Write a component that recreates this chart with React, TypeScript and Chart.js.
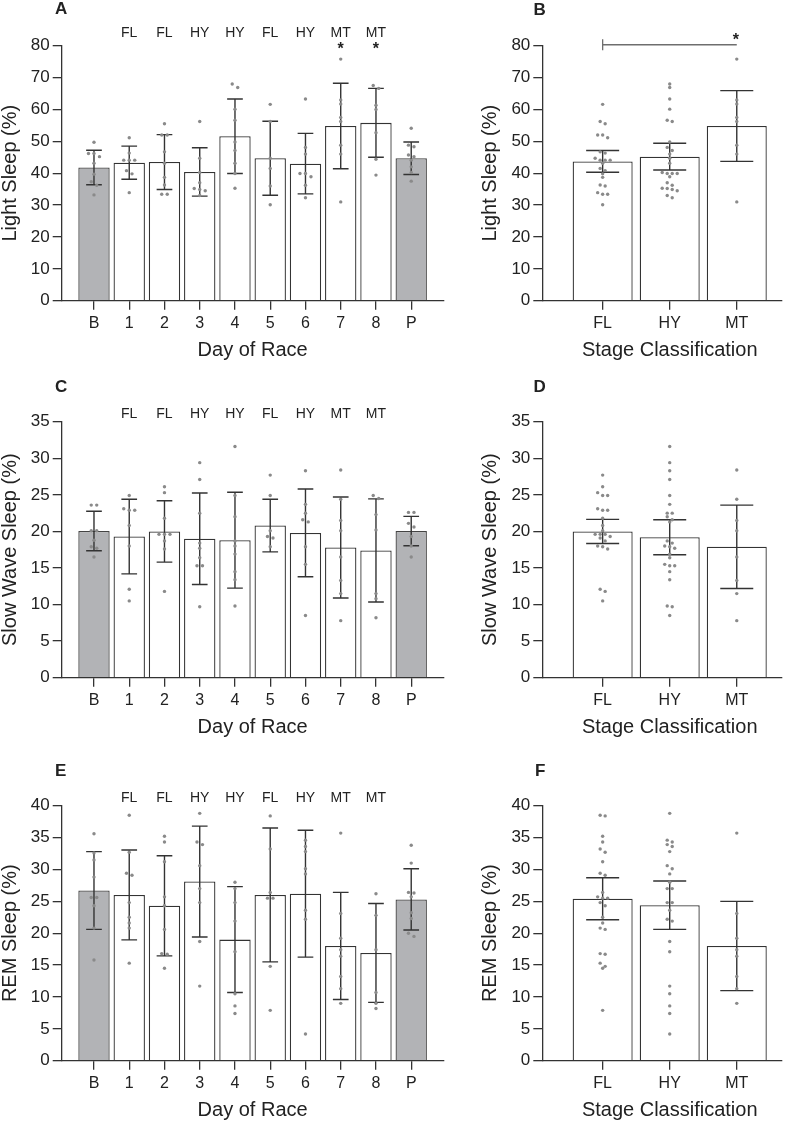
import React, { useEffect, useRef } from 'react';
import { Chart, registerables } from 'chart.js';

Chart.register(...registerables);

const FONT = "'Liberation Sans', Arial, Helvetica, sans-serif";
const INK = '#222222';
const AXIS = '#333333';
const WHITE = '#ffffff';
const GRAY = '#b2b3b6';
const DOT = '#8a8a8a';

// ---------- categories ----------
const dayLabels = ['B', '1', '2', '3', '4', '5', '6', '7', '8', 'P'];
const dayStages = ['', 'FL', 'FL', 'HY', 'HY', 'FL', 'HY', 'MT', 'MT', ''];
const stageLabels = ['FL', 'HY', 'MT'];

// ---------- A: Light sleep by day ----------
const lightDayMean = [41.8, 43.3, 43.5, 40.4, 51.6, 44.7, 43.0, 54.8, 55.8, 44.7];
const lightDaySD = [5.4, 5.2, 8.6, 7.6, 11.7, 11.6, 9.5, 13.4, 10.8, 5.1];
const lightDaySig = ['', '', '', '', '', '', '', '*', '*', ''];
const lightDayDots = [
  [49.7, 46.2, 46.2, 45.2, 43.1, 39.7, 37.3, 36.2, 33.2],
  [51.1, 46.3, 44.1, 44.1, 44.1, 40.8, 39.8, 33.9],
  [55.5, 52.0, 52.0, 46.7, 43.1, 38.7, 36.3, 33.4, 33.4],
  [56.2, 44.7, 40.2, 37.0, 35.2, 34.9, 34.5, 33.0],
  [68.0, 66.9, 60.1, 56.6, 49.8, 47.1, 43.1, 39.9, 35.3],
  [61.6, 56.2, 44.7, 41.5, 36.0, 30.1],
  [63.3, 48.1, 46.0, 39.9, 39.9, 38.9, 36.2, 32.3],
  [75.8, 63.0, 61.7, 57.5, 56.2, 48.8, 46.0, 31.0],
  [67.5, 66.6, 61.3, 60.0, 52.7, 44.4, 39.4],
  [54.1, 48.8, 48.3, 45.7, 45.2, 44.1, 42.0, 40.2, 37.5],
];

// ---------- B: Light sleep by stage ----------
const lightStageMean = [43.7, 45.2, 54.8];
const lightStageErr = [3.4, 4.2, 11.1];
const lightStageDots = [
  [61.6, 56.2, 55.5, 52.0, 52.0, 51.1, 46.7, 46.3, 44.7, 44.1, 44.1, 44.1, 43.1, 41.5, 40.8, 39.8, 38.7, 36.3, 36.0, 33.9, 33.4, 33.4, 30.1],
  [68.0, 66.9, 63.3, 60.1, 56.6, 56.2, 49.8, 48.1, 47.1, 46.0, 44.7, 43.1, 40.2, 39.9, 39.9, 39.9, 38.9, 37.0, 36.2, 35.3, 35.2, 34.9, 34.5, 33.0, 32.3],
  [75.8, 63.0, 61.7, 57.5, 56.2, 48.8, 46.0, 31.0],
];
const lightStageBracket = { from: 0, to: 2, level: 80.3, mark: '*' };

// ---------- C: Slow wave sleep by day ----------
const swsDayMean = [20.05, 19.3, 20.0, 19.0, 18.8, 20.8, 19.8, 17.8, 17.4, 20.05];
const swsDaySD = [2.7, 5.1, 4.2, 6.25, 6.55, 3.6, 6.0, 6.9, 7.05, 2.0];
const swsDayDots = [
  [23.6, 23.6, 20.1, 20.1, 18.8, 17.9, 17.7, 16.5],
  [24.9, 23.1, 22.9, 22.9, 20.8, 18.0, 12.1, 10.5],
  [26.1, 25.3, 21.8, 19.6, 19.6, 19.6, 18.7, 17.6, 11.8],
  [29.4, 27.1, 22.5, 18.4, 17.7, 16.4, 15.3, 15.3, 9.7],
  [31.6, 24.9, 22.0, 18.7, 18.0, 16.9, 14.5, 13.4, 9.8],
  [27.7, 24.9, 20.1, 19.3, 19.1, 17.9],
  [28.3, 23.7, 22.5, 21.6, 21.3, 17.9, 15.5, 8.5],
  [28.4, 24.4, 21.5, 20.1, 16.5, 13.3, 11.5, 7.8],
  [24.9, 24.5, 22.3, 20.2, 11.5, 10.8, 8.2],
  [22.6, 22.6, 21.1, 20.6, 19.3, 18.0, 16.5],
];

// ---------- D: Slow wave sleep by stage ----------
const swsStageMean = [20.0, 19.2, 17.9];
const swsStageErr = [1.65, 2.4, 5.7];
const swsStageDots = [
  [27.7, 26.1, 25.3, 24.9, 24.9, 23.1, 22.9, 22.9, 21.8, 20.8, 20.1, 19.6, 19.6, 19.6, 19.3, 19.1, 18.7, 18.0, 17.9, 17.6, 12.1, 11.8, 10.5],
  [31.6, 29.4, 28.3, 27.1, 24.9, 23.7, 22.5, 22.5, 22.0, 21.6, 21.3, 18.7, 18.4, 18.0, 17.9, 17.7, 16.9, 16.4, 15.5, 15.3, 15.3, 14.5, 13.4, 9.8, 9.7, 8.5],
  [28.4, 24.4, 21.5, 20.1, 16.5, 13.3, 11.5, 7.8],
];

// ---------- E: REM sleep by day ----------
const remDayMean = [26.7, 26.0, 24.3, 28.1, 19.0, 26.0, 26.2, 18.0, 16.9, 25.3];
const remDaySD = [6.1, 7.05, 7.85, 8.7, 8.3, 10.5, 9.95, 8.4, 7.75, 4.8];
const remDayDots = [
  [35.6, 32.6, 31.5, 28.8, 25.6, 25.6, 24.3, 20.8, 15.8],
  [38.5, 32.7, 29.4, 29.1, 24.8, 22.5, 21.6, 20.8, 15.3],
  [35.2, 34.3, 31.2, 25.7, 24.3, 20.6, 16.8, 16.7, 14.5],
  [38.8, 34.3, 33.9, 30.6, 27.0, 24.8, 18.7, 11.7],
  [28.0, 27.0, 24.8, 21.9, 17.1, 10.5, 8.6, 7.4],
  [38.4, 33.2, 26.4, 25.5, 25.5, 14.8, 7.9],
  [34.6, 33.6, 32.8, 30.1, 29.3, 23.6, 22.2, 4.2],
  [35.7, 23.1, 19.2, 17.4, 16.4, 13.2, 11.3, 9.0],
  [26.2, 22.8, 17.4, 10.7, 9.0, 8.2],
  [33.8, 31.0, 26.4, 26.3, 25.7, 23.2, 22.3, 20.0, 19.5],
];

// ---------- F: REM sleep by stage ----------
const remStageMean = [25.4, 24.4, 18.0];
const remStageErr = [3.3, 3.8, 7.0];
const remStageDots = [
  [38.5, 38.4, 35.2, 34.3, 33.2, 32.7, 31.2, 29.4, 29.1, 26.4, 25.7, 25.5, 25.5, 24.8, 24.3, 22.5, 21.6, 20.8, 20.6, 16.8, 16.7, 15.3, 14.8, 14.5, 7.9],
  [38.8, 34.6, 34.3, 33.9, 33.6, 32.8, 30.6, 30.1, 29.3, 28.0, 27.0, 27.0, 24.8, 24.8, 23.6, 22.2, 21.9, 18.7, 17.1, 11.7, 10.5, 8.6, 7.4, 4.2],
  [35.7, 23.1, 19.2, 17.4, 16.4, 13.2, 11.3, 9.0],
];

type Panel = {
  key: string;
  left: number; top: number; width: number; height: number;
  labels: string[];
  means: number[];
  errors: number[];
  dots: number[][];
  fills: string[];
  yMax: number; yStep: number;
  yTitle: string; xTitle: string;
  xMin: number; xMax: number;
  padTop: number; padRight: number; yAxisW: number; xAxisH: number;
  letter: string; letterX: number; letterY: number;
  stages?: string[]; stageDy?: number;
  sig?: string[]; sigDy?: number;
  bracket?: { from: number; to: number; level: number; mark: string };
  capRatio: number; barPct: number; dotGap: number; rowH: number;
};

const dayFills = dayLabels.map((l) => (l === 'B' || l === 'P' ? GRAY : WHITE));
const stageFills = stageLabels.map(() => WHITE);

const leftCommon = {
  left: 0, width: 460, padRight: 16, yAxisW: 61.7, xMin: -0.916, xMax: 9.93,
  labels: dayLabels, fills: dayFills, xTitle: 'Day of Race', stages: dayStages,
  capRatio: 0.25, barPct: 0.89, dotGap: 5.5, rowH: 4, letterX: 55,
};
const rightCommon = {
  left: 480, width: 317, padRight: 15.3, yAxisW: 62.3, xMin: -0.9, xMax: 2.67,
  labels: stageLabels, fills: stageFills, xTitle: 'Stage Classification',
  capRatio: 0.275, barPct: 0.895, dotGap: 5, rowH: 3.5, letterX: 53.5,
};

const panels: Panel[] = [
  { ...leftCommon, key: 'A', top: 0, height: 370, padTop: 45.7, xAxisH: 69.3,
    means: lightDayMean, errors: lightDaySD, dots: lightDayDots, yMax: 80, yStep: 10,
    yTitle: 'Light Sleep (%)', letter: 'A', letterY: 14, stageDy: 9, sig: lightDaySig, sigDy: 8.6 },
  { ...rightCommon, key: 'B', top: 0, height: 370, padTop: 45.7, xAxisH: 69.3,
    means: lightStageMean, errors: lightStageErr, dots: lightStageDots, yMax: 80, yStep: 10,
    yTitle: 'Light Sleep (%)', letter: 'B', letterY: 15, bracket: lightStageBracket },
  { ...leftCommon, key: 'C', top: 370, height: 380, padTop: 51.7, xAxisH: 72.3,
    means: swsDayMean, errors: swsDaySD, dots: swsDayDots, yMax: 35, yStep: 5,
    yTitle: 'Slow Wave Sleep (%)', letter: 'C', letterY: 22, stageDy: 4.2 },
  { ...rightCommon, key: 'D', top: 370, height: 380, padTop: 51.7, xAxisH: 72.3,
    means: swsStageMean, errors: swsStageErr, dots: swsStageDots, yMax: 35, yStep: 5,
    yTitle: 'Slow Wave Sleep (%)', letter: 'D', letterY: 22 },
  { ...leftCommon, key: 'E', top: 750, height: 373, padTop: 55.7, xAxisH: 62.3,
    means: remDayMean, errors: remDaySD, dots: remDayDots, yMax: 40, yStep: 5,
    yTitle: 'REM Sleep (%)', letter: 'E', letterY: 26, stageDy: 4 },
  { ...rightCommon, key: 'F', top: 750, height: 373, padTop: 55.7, xAxisH: 62.3,
    means: remStageMean, errors: remStageErr, dots: remStageDots, yMax: 40, yStep: 5,
    yTitle: 'REM Sleep (%)', letter: 'F', letterY: 26, letterX: 55 },
];

function makePlugins(p: Panel) {
  const beeswarm = {
    id: 'beeswarm' + p.key,
    afterDatasetsUpdate(chart: any) {
      const xs = chart.scales.x;
      chart.data.datasets.forEach((ds: any, di: number) => {
        if (ds.type !== 'scatter') return;
        const meta = chart.getDatasetMeta(di);
        const groups = new Map<number, any[]>();
        meta.data.forEach((el: any, i: number) => {
          const gx = ds.data[i].x;
          if (!groups.has(gx)) groups.set(gx, []);
          groups.get(gx)!.push(el);
        });
        groups.forEach((els, gx) => {
          const cx = xs.getPixelForValue(gx);
          const sorted = [...els].sort((a, b) => a.y - b.y);
          let row: any[] = [];
          const flush = () => {
            row.forEach((e, j) => { e.x = cx + (j - (row.length - 1) / 2) * p.dotGap; });
            row = [];
          };
          sorted.forEach((e) => {
            if (row.length && e.y - row[0].y > p.rowH) flush();
            row.push(e);
          });
          flush();
        });
      });
    },
  };
  const errorBars = {
    id: 'errorBars' + p.key,
    afterDatasetDraw(chart: any, args: any) {
      const ds = chart.data.datasets[args.index];
      if (!ds.errors) return;
      const ys = chart.scales.y;
      const ctx = chart.ctx;
      ctx.save();
      ctx.strokeStyle = AXIS;
      ctx.lineWidth = 1.4;
      args.meta.data.forEach((bar: any, i: number) => {
        const m = ds.data[i].y;
        const e = ds.errors[i];
        const x = bar.x;
        const hi = ys.getPixelForValue(m + e);
        const lo = ys.getPixelForValue(m - e);
        const hw = bar.width * p.capRatio;
        ctx.beginPath();
        ctx.moveTo(x, hi); ctx.lineTo(x, lo);
        ctx.moveTo(x - hw, hi); ctx.lineTo(x + hw, hi);
        ctx.moveTo(x - hw, lo); ctx.lineTo(x + hw, lo);
        ctx.stroke();
      });
      ctx.restore();
    },
  };
  const annot = {
    id: 'annot' + p.key,
    afterDraw(chart: any) {
      const { ctx, chartArea } = chart;
      const xs = chart.scales.x;
      const ys = chart.scales.y;
      ctx.save();
      ctx.fillStyle = INK;
      ctx.font = `bold 17px ${FONT}`;
      ctx.textAlign = 'left';
      ctx.textBaseline = 'alphabetic';
      ctx.fillText(p.letter, p.letterX, p.letterY);

      ctx.font = `20px ${FONT}`;
      ctx.textAlign = 'center';
      ctx.textBaseline = 'middle';
      const cx = (xs.getPixelForValue(0) + xs.getPixelForValue(p.labels.length - 1)) / 2;
      ctx.fillText(p.xTitle, cx, chartArea.bottom + 50);

      ctx.textBaseline = 'alphabetic';
      if (p.stages) {
        ctx.font = `14px ${FONT}`;
        p.stages.forEach((s, i) => {
          if (s) ctx.fillText(s, xs.getPixelForValue(i), chartArea.top - (p.stageDy || 0));
        });
      }
      if (p.sig) {
        ctx.font = `bold 16px ${FONT}`;
        p.sig.forEach((s, i) => {
          if (s) ctx.fillText(s, xs.getPixelForValue(i), chartArea.top + (p.sigDy || 0));
        });
      }
      if (p.bracket) {
        const b = p.bracket;
        const x1 = xs.getPixelForValue(b.from);
        const x2 = xs.getPixelForValue(b.to);
        const y = ys.getPixelForValue(b.level);
        ctx.strokeStyle = '#6e6e6e';
        ctx.lineWidth = 1.3;
        ctx.beginPath();
        ctx.moveTo(x1, y); ctx.lineTo(x2, y);
        ctx.moveTo(x1, y - 5.5); ctx.lineTo(x1, y + 5.5);
        ctx.stroke();
        ctx.font = `bold 16px ${FONT}`;
        ctx.fillText(b.mark, x2 - 1, y);
      }
      ctx.restore();
    },
  };
  return [beeswarm, errorBars, annot];
}

function makeConfig(p: Panel): any {
  const barData = p.means.map((m, i) => ({ x: i, y: m }));
  const dotData = p.dots.flatMap((arr, i) => arr.map((v) => ({ x: i, y: v })));
  const gridOpts = { drawOnChartArea: false, drawTicks: true, tickLength: 9, color: AXIS, lineWidth: 1.3, offset: false };
  const borderOpts = { display: true, color: AXIS, width: 1.3 };
  return {
    type: 'bar',
    data: {
      datasets: [
        {
          type: 'scatter',
          data: dotData,
          order: 0,
          pointRadius: 1.7,
          pointBackgroundColor: DOT,
          pointBorderWidth: 0,
          pointHoverRadius: 1.7,
        },
        {
          type: 'bar',
          data: barData,
          errors: p.errors,
          order: 1,
          backgroundColor: p.fills,
          borderColor: p.fills.map((f) => (f === GRAY ? '#444444' : AXIS)),
          borderWidth: 1.3,
          categoryPercentage: 1,
          barPercentage: p.barPct,
        },
      ],
    },
    options: {
      animation: false,
      responsive: false,
      events: [],
      layout: { padding: { top: p.padTop, right: p.padRight, left: 0, bottom: 0 } },
      plugins: { legend: { display: false }, tooltip: { enabled: false }, title: { display: false } },
      scales: {
        x: {
          type: 'linear',
          min: p.xMin,
          max: p.xMax,
          bounds: 'data',
          offset: false,
          afterBuildTicks: (s: any) => { s.ticks = p.labels.map((_, i) => ({ value: i })); },
          afterFit: (s: any) => { s.height = p.xAxisH; },
          ticks: {
            autoSkip: false,
            maxRotation: 0,
            minRotation: 0,
            padding: 4,
            color: INK,
            font: { family: FONT, size: 16 },
            callback: (_v: any, i: number) => p.labels[i],
          },
          grid: gridOpts,
          border: borderOpts,
          title: { display: false },
        },
        y: {
          type: 'linear',
          min: 0,
          max: p.yMax,
          afterFit: (s: any) => { s.width = p.yAxisW; },
          ticks: { stepSize: p.yStep, padding: 3, color: INK, font: { family: FONT, size: 17 } },
          grid: gridOpts,
          border: borderOpts,
          title: {
            display: true,
            text: p.yTitle,
            color: INK,
            padding: 0,
            font: { family: FONT, size: 20, lineHeight: 1 },
          },
        },
      },
    },
    plugins: makePlugins(p),
  };
}

function PanelChart({ p }: { p: Panel }) {
  const ref = useRef<HTMLCanvasElement | null>(null);
  useEffect(() => {
    if (!ref.current) return;
    const chart = new Chart(ref.current, makeConfig(p));
    return () => chart.destroy();
  }, []);
  return (
    <canvas
      ref={ref}
      width={p.width}
      height={p.height}
      style={{ position: 'absolute', left: p.left, top: p.top, width: p.width, height: p.height }}
    />
  );
}

export default function App() {
  return (
    <div style={{ position: 'absolute', left: 0, top: 0, width: 797, height: 1123, background: '#ffffff', overflow: 'hidden' }}>
      {panels.map((p) => (
        <PanelChart key={p.key} p={p} />
      ))}
    </div>
  );
}
